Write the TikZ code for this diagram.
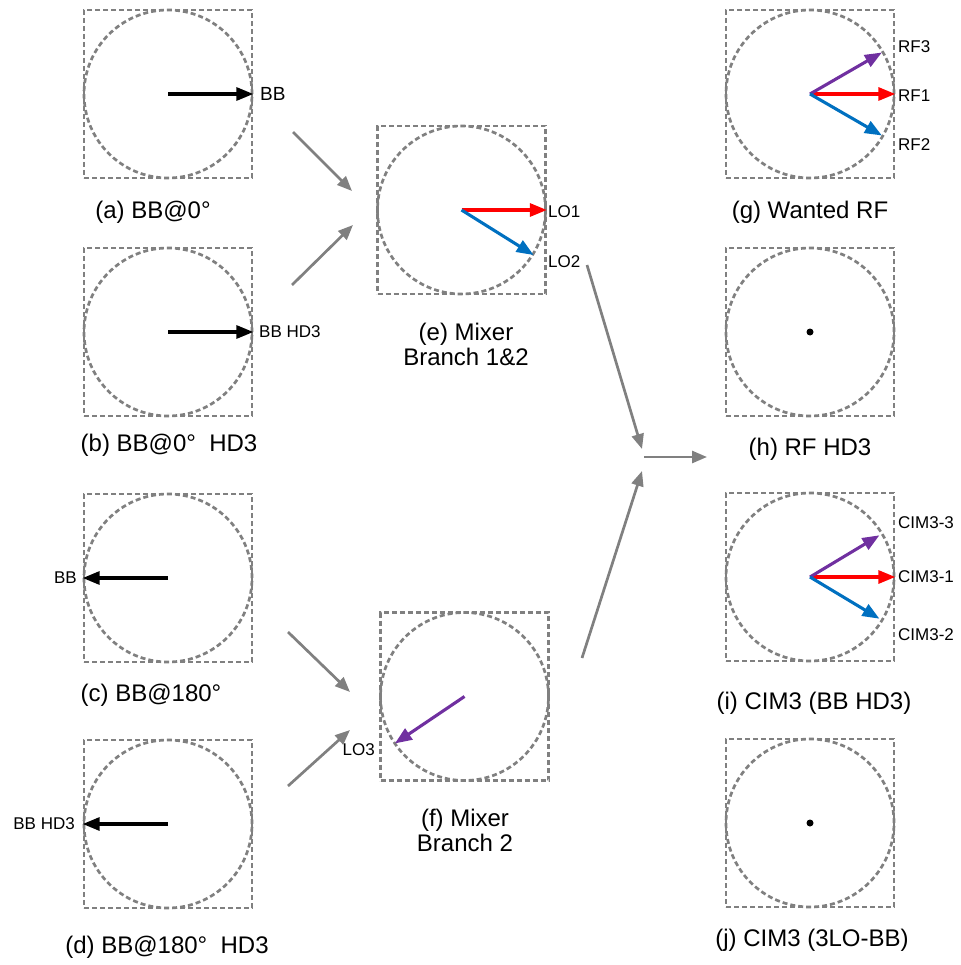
\documentclass[tikz,border=0pt]{standalone}
\usepackage{fontspec}
\setmainfont{Liberation Sans}
\usetikzlibrary{arrows.meta}

\definecolor{lgray}{RGB}{128,128,128}
\definecolor{vred}{RGB}{255,0,0}
\definecolor{vblue}{RGB}{0,112,192}
\definecolor{vpurple}{RGB}{112,48,160}

\tikzset{
  frame/.style={draw=lgray, line width=2.7pt, dash pattern=on 5pt off 3pt,
    minimum size=168pt, inner sep=0pt},
  ring/.style={draw=lgray, line width=2.7pt, dash pattern=on 5pt off 3pt},
  vec/.style={line width=3.1pt, -{Triangle[length=17pt,width=13pt]}},
  flow/.style={draw=lgray, line width=2.7pt, -{Triangle[length=15pt,width=12pt]}},
  lbl/.style={font=\fontsize{17}{17}\selectfont, inner sep=0pt},
  captext/.style={font=\fontsize{24}{25}\selectfont, align=center, inner sep=0pt},
  dot/.style={circle, fill=black, inner sep=0pt, minimum size=7pt},
}

\begin{document}
\begin{tikzpicture}[x=1pt, y=-1pt]
\useasboundingbox (0,0) rectangle (960,965);

% ---- phasor panels: dashed frame with inscribed dashed circle ----
\foreach \n/\px/\py in {pa/168/94, pb/168/332, pc/168/578, pd/168/824,
                        pe/461.5/210, pf/464.5/696.5,
                        pg/810/94, ph/810/332, pi/810/577, pj/810/823}{
  \node[frame] (\n) at (\px,\py) {};
  \draw[ring] (\n.center) circle[radius=84pt];
}

% ---- (a) BB at 0 deg ----
\draw[vec] (pa.center) -- (pa.east);
\node[lbl, font=\fontsize{19}{19}\selectfont, anchor=west] (la) at (260,94) {BB};
\node[captext, anchor=base] (ca) at (153,218.6) {(a) BB@0°};

% ---- (b) BB at 0 deg, HD3 ----
\draw[vec] (pb.center) -- (pb.east);
\node[lbl, anchor=west] (lb) at (259,332) {BB HD3};
\node[captext, anchor=base] (cb) at (169,451.6) {(b) BB@0°\ \ HD3};

% ---- (c) BB at 180 deg ----
\draw[vec] (pc.center) -- (pc.west);
\node[lbl, anchor=east] (lc) at (77,578) {BB};
\node[captext, anchor=base] (cc) at (151,701.6) {(c) BB@180°};

% ---- (d) BB at 180 deg, HD3 ----
\draw[vec] (pd.center) -- (pd.west);
\node[lbl, anchor=east] (ld) at (75,824) {BB HD3};
\node[captext, anchor=base] (cd) at (167,953.6) {(d) BB@180°\ \ HD3};

% ---- (e) mixer branches 1 and 2 ----
\draw[vec, vred] (pe.center) -- (pe.east);
\draw[vec, vblue] (pe.center) -- ([shift={(-32:85pt)}]pe.center);
\node[lbl, anchor=west] (le1) at (548,212) {LO1};
\node[lbl, anchor=west] (le2) at (548,262) {LO2};
\node[captext] (ce) at (466,344.5) {(e) Mixer\\Branch 1\&2};

% ---- (f) mixer branch 2 ----
\draw[vec, vpurple] (pf.center) -- ([shift={(214:84pt)}]pf.center);
\node[lbl, anchor=east] (lf) at (375,750) {LO3};
\node[captext] (cf) at (465,830) {(f) Mixer\\Branch 2};

% ---- (g) wanted RF ----
\draw[vec, vred] (pg.center) -- (pg.east);
\draw[vec, vpurple] (pg.center) -- ([shift={(30:83pt)}]pg.center);
\draw[vec, vblue] (pg.center) -- ([shift={(-30:83pt)}]pg.center);
\node[lbl, anchor=west] (lg3) at (898,47) {RF3};
\node[lbl, anchor=west] (lg1) at (898,96) {RF1};
\node[lbl, anchor=west] (lg2) at (898,145) {RF2};
\node[captext, anchor=base] (cg) at (810,218.6) {(g) Wanted RF};

% ---- (h) RF HD3 ----
\node[dot] (dh) at (ph.center) {};
\node[captext, anchor=base] (ch) at (810,455.6) {(h) RF HD3};

% ---- (i) CIM3 from BB HD3 ----
\draw[vec, vred] (pi.center) -- (pi.east);
\draw[vec, vpurple] (pi.center) -- ([shift={(31:81pt)}]pi.center);
\draw[vec, vblue] (pi.center) -- ([shift={(-31:81pt)}]pi.center);
\node[lbl, anchor=west] (li3) at (898,523) {CIM3-3};
\node[lbl, anchor=west] (li1) at (898,577) {CIM3-1};
\node[lbl, anchor=west] (li2) at (898,635) {CIM3-2};
\node[captext, anchor=base] (ci) at (814,709) {(i) CIM3 (BB HD3)};

% ---- (j) CIM3 from 3LO-BB ----
\node[dot] (dj) at (pj.center) {};
\node[captext, anchor=base] (cj) at (812,946) {(j) CIM3 (3LO-BB)};

% ---- signal flow ----
\coordinate (fa0) at (293,132);  \coordinate (fa1) at (352,191);
\coordinate (fb0) at (292,285);  \coordinate (fb1) at (353,225);
\coordinate (fc0) at (288,632);  \coordinate (fc1) at (350,692);
\coordinate (fd0) at (288,786);  \coordinate (fd1) at (350,730);
\coordinate (fe0) at (587,265);  \coordinate (fe1) at (642,449);
\coordinate (ff0) at (582,658);  \coordinate (ff1) at (642,471);
\coordinate (fm0) at (644,457);  \coordinate (fm1) at (707,457);
\draw[flow] (fa0) -- (fa1);
\draw[flow] (fb0) -- (fb1);
\draw[flow] (fc0) -- (fc1);
\draw[flow] (fd0) -- (fd1);
\draw[flow] (fe0) -- (fe1);
\draw[flow] (ff0) -- (ff1);
\draw[flow] (fm0) -- (fm1);
\end{tikzpicture}
\end{document}
